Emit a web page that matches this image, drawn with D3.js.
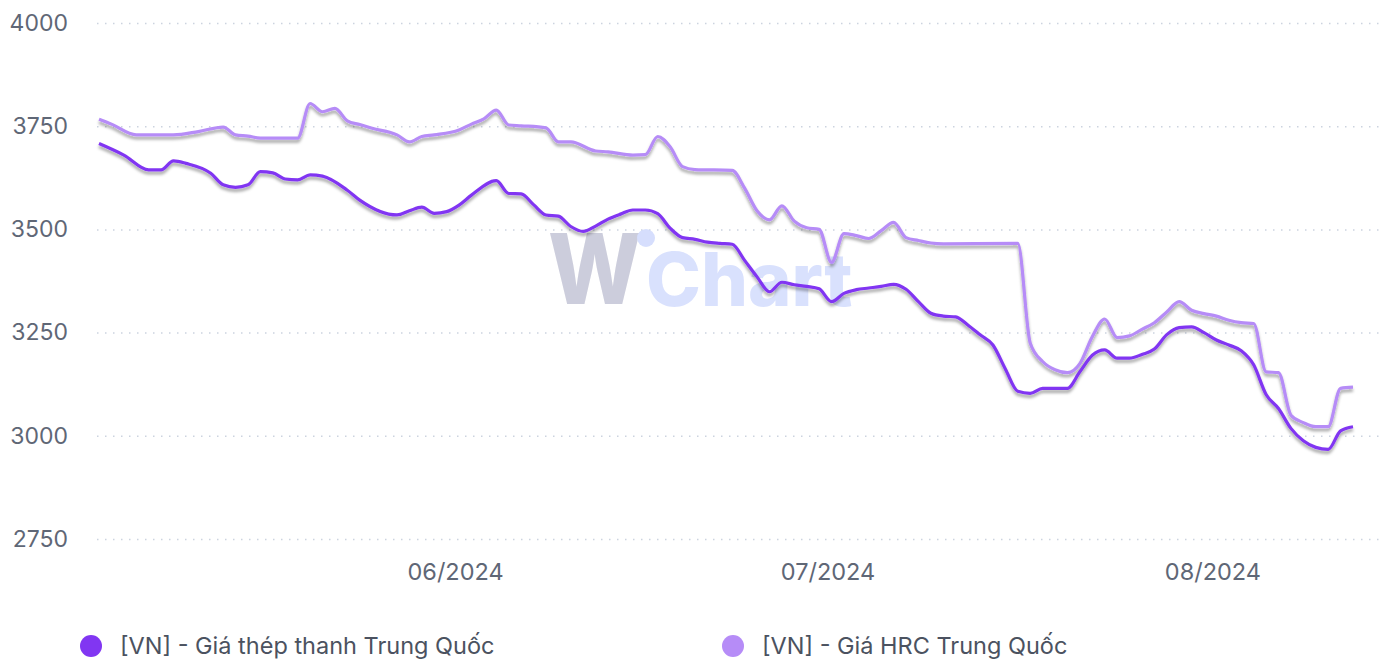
<!DOCTYPE html>
<html>
  <head>
    <title>Giá thép Trung Quốc</title>
    <meta charset="utf-8">
    <script src="https://d3js.org/d3.v7.min.js"></script>
    <style>
      body { margin: 0; background: #fff; }
      svg { font-family: Inter, Roboto, "Noto Sans", sans-serif; }
    </style>
  </head>

  <body>

    <svg width="1387" height="660"></svg>

    <script>

      // [VN] - Giá thép thanh Trung Quốc
      var thepDates = ["2024-05-03","2024-05-05","2024-05-07","2024-05-08","2024-05-09","2024-05-10","2024-05-12","2024-05-13","2024-05-14","2024-05-15",
        "2024-05-16","2024-05-17","2024-05-18","2024-05-19","2024-05-20","2024-05-21","2024-05-23","2024-05-24","2024-05-27","2024-05-28",
        "2024-05-29","2024-05-30","2024-05-31","2024-06-01","2024-06-02","2024-06-04","2024-06-05","2024-06-06","2024-06-07","2024-06-08",
        "2024-06-09","2024-06-10","2024-06-11","2024-06-12","2024-06-13","2024-06-14","2024-06-15","2024-06-16","2024-06-17","2024-06-18",
        "2024-06-19","2024-06-20","2024-06-21","2024-06-22","2024-06-23","2024-06-24","2024-06-25","2024-06-26","2024-06-27","2024-06-28",
        "2024-06-29","2024-06-30","2024-07-01","2024-07-02","2024-07-03","2024-07-04","2024-07-05","2024-07-06","2024-07-07","2024-07-08",
        "2024-07-09","2024-07-10","2024-07-11","2024-07-12","2024-07-13","2024-07-14","2024-07-15","2024-07-16","2024-07-17","2024-07-18",
        "2024-07-19","2024-07-20","2024-07-21","2024-07-22","2024-07-23","2024-07-24","2024-07-25","2024-07-26","2024-07-27","2024-07-28",
        "2024-07-29","2024-07-30","2024-07-31","2024-08-01","2024-08-02","2024-08-03","2024-08-04","2024-08-05","2024-08-06","2024-08-07",
        "2024-08-08","2024-08-09","2024-08-10","2024-08-11","2024-08-12"];
      var thepValues = [3708,3680,3644,3644,3666,3660,3636,3608,3602,3608,
        3640,3637,3622,3620,3632,3629,3595,3571,3535,3545,
        3554,3539,3543,3559,3583,3618,3587,3586,3560,3535,
        3532,3507,3495,3508,3525,3537,3547,3547,3538,3503,
        3480,3476,3469,3466,3464,3425,3385,3349,3372,3366,
        3362,3356,3325,3345,3354,3358,3362,3367,3355,3325,
        3297,3290,3288,3268,3244,3220,3162,3108,3103,3115,
        3115,3115,3155,3195,3208,3188,3188,3197,3210,3245,
        3262,3264,3250,3232,3220,3206,3172,3100,3066,3018,
        2988,2972,2967,3012,3022];

      // [VN] - Giá HRC Trung Quốc
      var hrcDates = ["2024-05-03","2024-05-04","2024-05-06","2024-05-09","2024-05-11","2024-05-13","2024-05-14","2024-05-15","2024-05-16","2024-05-19",
        "2024-05-20","2024-05-21","2024-05-22","2024-05-23","2024-05-24","2024-05-25","2024-05-27","2024-05-28","2024-05-29","2024-05-30",
        "2024-06-01","2024-06-02","2024-06-03","2024-06-04","2024-06-05","2024-06-06","2024-06-08","2024-06-09","2024-06-10","2024-06-12",
        "2024-06-13","2024-06-15","2024-06-16","2024-06-17","2024-06-18","2024-06-19","2024-06-20","2024-06-23","2024-06-24","2024-06-25",
        "2024-06-26","2024-06-27","2024-06-28","2024-06-29","2024-06-30","2024-07-01","2024-07-02","2024-07-03","2024-07-04","2024-07-05",
        "2024-07-06","2024-07-07","2024-07-08","2024-07-09","2024-07-10","2024-07-16","2024-07-17","2024-07-18","2024-07-19","2024-07-20",
        "2024-07-21","2024-07-22","2024-07-23","2024-07-24","2024-07-25","2024-07-26","2024-07-27","2024-07-28","2024-07-29","2024-07-30",
        "2024-07-31","2024-08-01","2024-08-02","2024-08-03","2024-08-04","2024-08-05","2024-08-06","2024-08-07","2024-08-08","2024-08-09",
        "2024-08-10","2024-08-11","2024-08-12"];
      var hrcValues = [3767,3755,3729,3729,3737,3748,3729,3726,3721,3721,
        3805,3785,3793,3763,3754,3745,3729,3712,3725,3729,
        3741,3755,3768,3789,3753,3751,3746,3712,3712,3690,
        3688,3680,3681,3725,3700,3652,3645,3643,3600,3545,
        3523,3557,3520,3504,3500,3420,3490,3485,3478,3497,
        3517,3480,3473,3467,3465,3466,3225,3180,3160,3153,
        3175,3240,3283,3238,3242,3258,3274,3300,3325,3304,
        3296,3290,3280,3274,3272,3155,3153,3050,3032,3022,
        3022,3115,3118];

      var seriesNames = ["[VN] - Giá thép thanh Trung Quốc", "[VN] - Giá HRC Trung Quốc"];
      var seriesColors = ["#8136f2", "#b68cf7"];
      var yTicks = [2750, 3000, 3250, 3500, 3750, 4000];

      var svg = d3.select("svg");
      var parse = d3.timeParse("%Y-%m-%d");

      var series = [
        thepDates.map(function(d, i) { return {date: parse(d), value: thepValues[i]}; }),
        hrcDates.map(function(d, i) { return {date: parse(d), value: hrcValues[i]}; })
      ];

      var x = d3.scaleTime()
          .domain([parse("2024-05-03"), parse("2024-08-12")])
          .range([99, 1353]);
      var y = d3.scaleLinear()
          .domain([2750, 4000])
          .range([539, 23]);

      var defs = svg.append("defs");
      defs.append("filter")
          .attr("id", "shadow")
          .attr("x", "-5%").attr("y", "-20%").attr("width", "110%").attr("height", "140%")
        .append("feDropShadow")
          .attr("dx", 0).attr("dy", 3)
          .attr("stdDeviation", 1.6)
          .attr("flood-color", "#000")
          .attr("flood-opacity", 0.35);

      // grid + y labels
      var yAxis = svg.append("g")
          .attr("transform", "translate(97,0)")
          .call(d3.axisLeft(y).tickValues(yTicks).tickFormat(d3.format("d")).tickSize(-1283).tickPadding(29));
      yAxis.select(".domain").remove();
      yAxis.selectAll(".tick line")
          .attr("stroke", "#ccd3df")
          .attr("stroke-width", 1.5)
          .attr("stroke-dasharray", "1.5,6.5");
      yAxis.selectAll(".tick text")
          .attr("fill", "#5f6776")
          .attr("font-size", 23)
          .attr("font-family", "Inter, Roboto, sans-serif");

      // x labels
      var xAxis = svg.append("g")
          .attr("transform", "translate(0,539)")
          .call(d3.axisBottom(x).ticks(d3.timeMonth.every(1)).tickFormat(d3.timeFormat("%m/%Y")).tickSize(0).tickPadding(22));
      xAxis.select(".domain").remove();
      xAxis.selectAll(".tick text")
          .attr("fill", "#5f6776")
          .attr("font-size", 23.5)
          .attr("font-family", "Inter, Roboto, sans-serif")
          .attr("dx", -4)
          .attr("y", 24);

      // watermark
      var wm = svg.append("g").attr("opacity", 0.85);
      wm.append("text")
          .attr("x", 548).attr("y", 304)
          .attr("transform", "translate(548,0) scale(0.9,1) translate(-548,0)")
          .attr("font-size", 98)
          .attr("font-weight", 800)
          .attr("fill", "#c4c5d6")
          .text("W");
      wm.append("circle")
          .attr("cx", 646).attr("cy", 238).attr("r", 9)
          .attr("fill", "#cfd9fd");
      wm.append("text")
          .attr("x", 646).attr("y", 306)
          .attr("font-size", 74)
          .attr("font-weight", 800)
          .attr("fill", "#d3dcfd")
          .text("Chart");

      var line = d3.line()
          .curve(d3.curveMonotoneX)
          .x(function(d) { return x(d.date); })
          .y(function(d) { return y(d.value); });

      svg.append("g").selectAll("path")
          .data(series.slice().reverse())
        .enter().append("path")
          .attr("d", line)
          .attr("fill", "none")
          .attr("stroke", function(d, i) { return seriesColors[1 - i]; })
          .attr("stroke-width", 3.2)
          .attr("stroke-linejoin", "round")
          .attr("filter", "url(#shadow)");

      // legend
      var legendX = [91, 733];
      var legend = svg.append("g").selectAll("g")
          .data(seriesNames)
        .enter().append("g")
          .attr("transform", function(d, i) { return "translate(" + legendX[i] + ",646)"; });
      legend.append("circle")
          .attr("r", 11)
          .attr("fill", function(d, i) { return seriesColors[i]; });
      legend.append("text")
          .attr("x", 29).attr("y", 8)
          .attr("font-size", 23.5)
          .attr("fill", "#4b5260")
          .text(function(d) { return d; });

    </script>
  </body>
</html>
